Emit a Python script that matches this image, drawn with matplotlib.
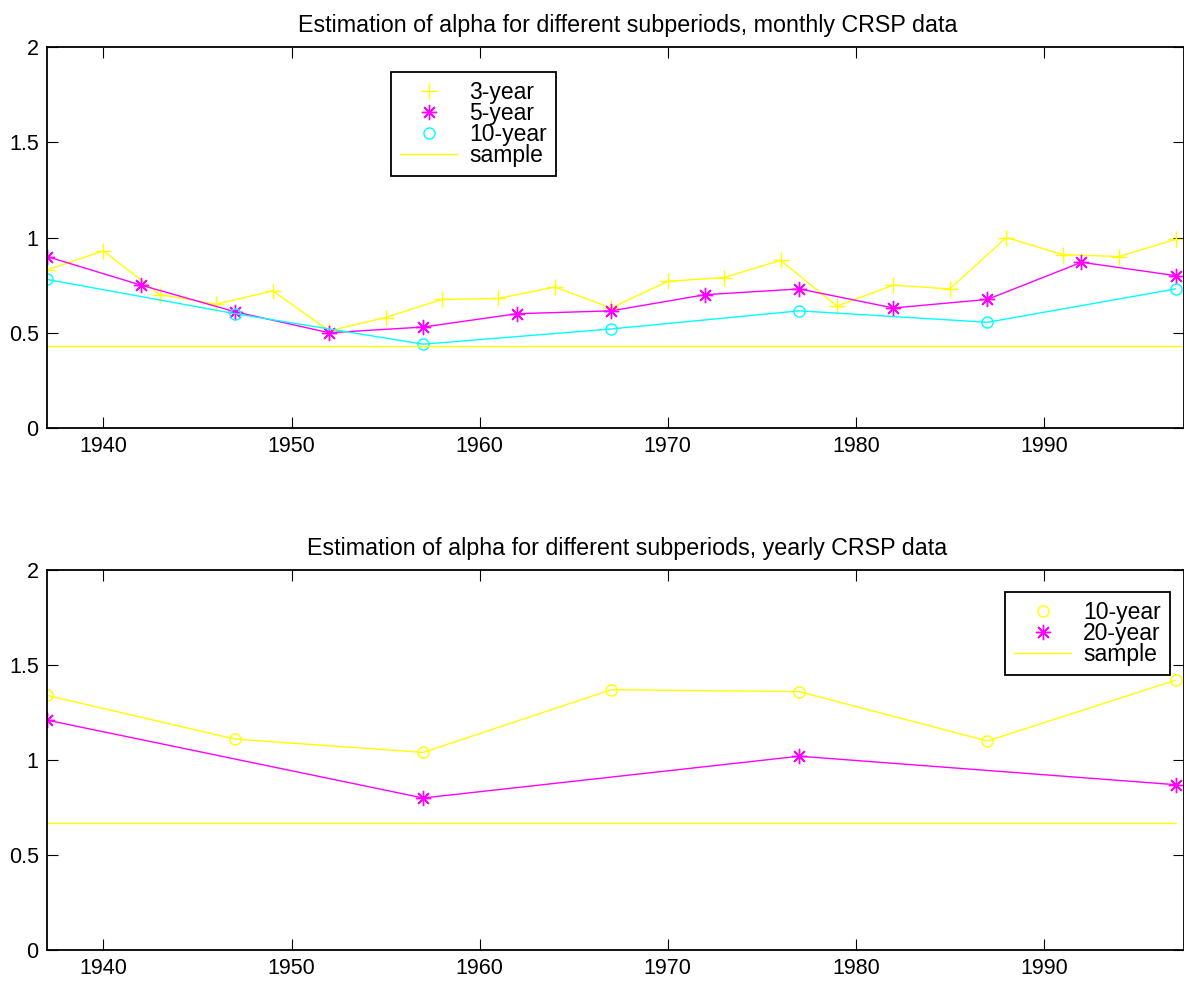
import matplotlib.pyplot as plt
from matplotlib.lines import Line2D

plt.rcParams['font.family'] = ['Liberation Sans', 'DejaVu Sans']

# monthly CRSP data, estimated alpha per subperiod
years_3 = [1937, 1940, 1943, 1946, 1949, 1952, 1955, 1958, 1961, 1964, 1967,
           1970, 1973, 1976, 1979, 1982, 1985, 1988, 1991, 1994, 1997]
alpha_3 = [0.83, 0.93, 0.70, 0.65, 0.72, 0.51, 0.58, 0.675, 0.68, 0.74, 0.63,
           0.77, 0.79, 0.88, 0.64, 0.75, 0.73, 1.00, 0.91, 0.90, 0.99]
years_5 = [1937, 1942, 1947, 1952, 1957, 1962, 1967, 1972, 1977, 1982, 1987, 1992, 1997]
alpha_5 = [0.90, 0.75, 0.61, 0.50, 0.53, 0.60, 0.615, 0.70, 0.73, 0.63, 0.675, 0.87, 0.80]
years_10 = [1937, 1947, 1957, 1967, 1977, 1987, 1997]
alpha_10 = [0.78, 0.60, 0.44, 0.52, 0.615, 0.555, 0.73]
sample_m_years = [1937, 1998]
sample_m = [0.43, 0.43]

# yearly CRSP data
years_y10 = [1937, 1947, 1957, 1967, 1977, 1987, 1997]
alpha_y10 = [1.34, 1.11, 1.04, 1.37, 1.36, 1.10, 1.42]
years_y20 = [1937, 1957, 1977, 1997]
alpha_y20 = [1.21, 0.80, 1.02, 0.87]
sample_y_years = [1937, 1997]
sample_y = [0.67, 0.67]

yticks = [0, 0.5, 1, 1.5, 2]
ytick_labels = ["0", "0.5", "1", "1.5", "2"]
xticks = [1940, 1950, 1960, 1970, 1980, 1990]

YEL, MAG, CYA = '#ffff00', '#ff00ff', '#00ffff'
star = (8, 2, 0)

W, H = 1184, 981
fig = plt.figure(figsize=(W/100, H/100), dpi=100)
ax1 = fig.add_axes([47/W, 1-428/H, 1137/W, 381/H])
ax2 = fig.add_axes([47/W, 1-950/H, 1137/W, 380/H])

ax1.plot(years_3, alpha_3, color=YEL, lw=1.0, marker='+', ms=11, mew=1.0)
ax1.plot(years_5, alpha_5, color=MAG, lw=1.0, marker=star, ms=11, mew=1.0)
ax1.plot(years_10, alpha_10, color=CYA, lw=1.0, marker='o', ms=8, mfc='none', mew=1.0)
ax1.plot(sample_m_years, sample_m, color=YEL, lw=1.0)

ax2.plot(years_y10, alpha_y10, color=YEL, lw=1.0, marker='o', ms=8, mfc='none', mew=1.0)
ax2.plot(years_y20, alpha_y20, color=MAG, lw=1.0, marker=star, ms=11, mew=1.0)
ax2.plot(sample_y_years, sample_y, color=YEL, lw=1.0)

titles = ["Estimation of alpha for different subperiods, monthly CRSP data",
          "Estimation of alpha for different subperiods, yearly CRSP data"]
for ax, t in zip([ax1, ax2], titles):
    ax.set_xlim(1937, 1997.45)
    ax.set_ylim(0, 2)
    ax.set_yticks(yticks)
    ax.set_yticklabels(ytick_labels)
    ax.set_xticks(xticks)
    ax.tick_params(direction='in', length=8, width=0.8, top=True, right=True,
                   labelsize=15.5, pad=6)
    for s in ax.spines.values():
        s.set_linewidth(1.3)
    ax.set_title(t, fontsize=16.75, pad=11, x=0.5106)

# legend keys: marker only for the subperiod series, line only for sample
h_top = [Line2D([], [], ls='none', color=YEL, marker='+', ms=11, mew=1.0),
         Line2D([], [], ls='none', color=MAG, marker=star, ms=11, mew=1.0),
         Line2D([], [], ls='none', color=CYA, marker='o', ms=8, mfc='none', mew=1.0),
         Line2D([], [], color=YEL, lw=1.0)]
h_bot = [Line2D([], [], ls='none', color=YEL, marker='o', ms=8, mfc='none', mew=1.0),
         Line2D([], [], ls='none', color=MAG, marker=star, ms=11, mew=1.0),
         Line2D([], [], color=YEL, lw=1.0)]

leg_kw = dict(fontsize=16.5, frameon=True, fancybox=False, edgecolor='black',
              labelspacing=-0.09, handlelength=2.5, handletextpad=0.5,
              borderpad=0.4, borderaxespad=0)
l1 = ax1.legend(h_top, ['3-year', '5-year', '10-year', 'sample'], loc='upper left',
                bbox_to_anchor=(391/W, 1-72/H), bbox_transform=fig.transFigure, **leg_kw)
l2 = ax2.legend(h_bot, ['10-year', '20-year', 'sample'], loc='upper left',
                bbox_to_anchor=(1005/W, 1-592/H), bbox_transform=fig.transFigure, **leg_kw)
for l in (l1, l2):
    l.get_frame().set_linewidth(1.3)
    l.get_frame().set_alpha(1)

fig.savefig('out.png', dpi=100)
